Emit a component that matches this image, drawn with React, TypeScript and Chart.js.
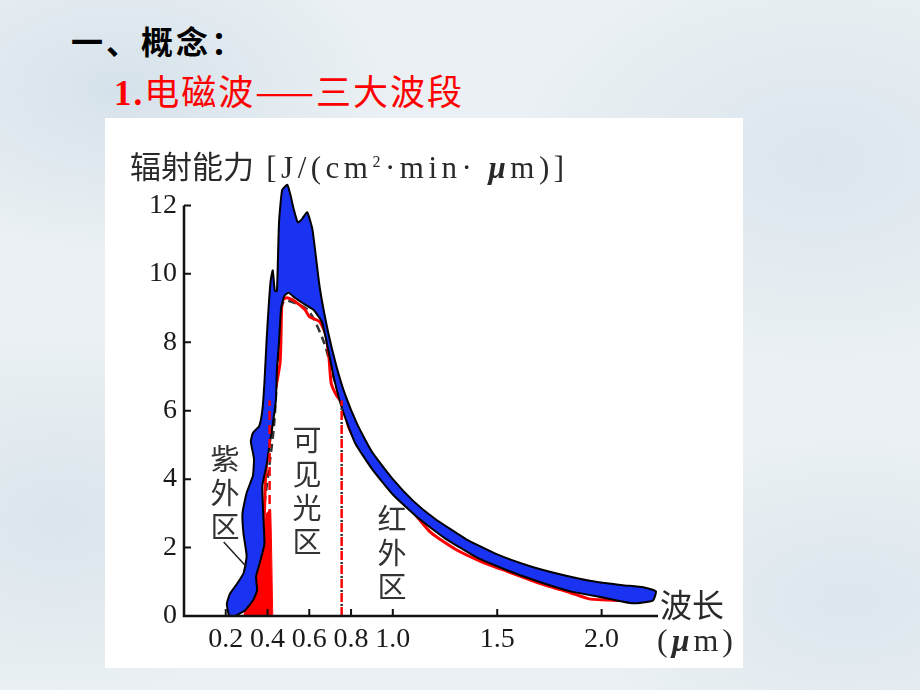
import React, { useEffect, useRef } from "react";
import { Chart, registerables } from "chart.js";

Chart.register(...registerables);

// ---- data (wavelength μm, radiant energy J/(cm²·min·μm)) ----
const xTicks = [0.2, 0.4, 0.6, 0.8, 1.0, 1.5, 2.0];
const yTicks = [0, 2, 4, 6, 8, 10, 12];
const X_MAX = 2.27;
const Y_MAX = 12.8;

// blue highlighted band (closed outline of the painted region)
const blueOutline: [number, number][] = [
  [0.215, 0.0], [0.205, 0.35], [0.22, 0.65], [0.255, 0.95], [0.285, 1.25], [0.3, 1.75],
  [0.285, 2.4], [0.28, 3.0], [0.3, 3.6], [0.33, 4.1], [0.335, 4.6], [0.32, 5.1],
  [0.33, 5.35], [0.36, 5.55], [0.375, 6.0], [0.385, 6.8], [0.395, 8.0], [0.405, 9.0],
  [0.415, 9.8], [0.425, 10.1], [0.435, 9.5], [0.445, 9.5], [0.455, 11.5], [0.47, 12.45],
  [0.495, 12.6], [0.51, 12.3], [0.525, 11.9], [0.545, 11.5], [0.565, 11.6], [0.59, 11.8],
  [0.615, 11.3], [0.65, 9.6], [0.69, 8.3], [0.73, 7.3], [0.77, 6.5], [0.83, 5.6],
  [0.9, 4.8], [1.0, 4.0], [1.1, 3.35], [1.2, 2.85], [1.35, 2.25], [1.5, 1.8],
  [1.65, 1.47], [1.8, 1.22], [1.95, 1.02], [2.1, 0.9], [2.2, 0.84], [2.26, 0.72],
  [2.245, 0.45], [2.15, 0.37], [2.0, 0.55], [1.85, 0.72], [1.7, 1.0], [1.55, 1.33],
  [1.4, 1.72], [1.25, 2.27], [1.12, 2.87], [1.0, 3.55], [0.9, 4.3], [0.82, 5.05],
  [0.76, 6.0], [0.72, 6.9], [0.69, 7.8], [0.66, 8.6], [0.62, 8.95], [0.58, 9.1],
  [0.53, 9.3], [0.5, 9.45], [0.48, 9.35], [0.465, 9.0], [0.455, 8.0], [0.445, 7.2],
  [0.44, 6.3], [0.425, 5.6], [0.41, 5.0], [0.395, 4.4], [0.375, 3.8], [0.38, 2.9],
  [0.385, 2.1], [0.365, 1.6], [0.345, 1.15], [0.35, 0.75], [0.33, 0.45], [0.29, 0.15],
  [0.245, 0.0],
];

// red hand-drawn curve
const redCurve: [number, number][] = [
  [0.29, 0.1], [0.355, 1.05], [0.37, 2.0], [0.385, 3.0], [0.39, 4.0], [0.41, 5.4],
  [0.435, 6.5], [0.46, 7.4], [0.465, 8.3], [0.47, 9.2], [0.49, 9.3], [0.53, 9.2],
  [0.58, 8.95], [0.6, 8.75], [0.65, 8.6], [0.68, 8.2], [0.695, 7.5], [0.705, 6.8],
  [0.73, 6.45], [0.76, 6.2], [0.79, 5.5], [0.85, 4.85], [0.89, 4.55], [0.95, 4.2],
  [1.0, 3.7], [1.07, 3.25], [1.18, 2.45], [1.3, 1.95], [1.42, 1.6], [1.55, 1.3],
  [1.66, 1.05], [1.74, 0.88], [1.85, 0.68], [1.94, 0.5], [2.02, 0.47], [2.1, 0.45],
  [2.2, 0.5],
];

// black dashed curve (blackbody reference)
const blackDashed: [number, number][] = [
  [0.3, 0.3], [0.35, 1.5], [0.39, 3.5], [0.43, 5.5], [0.445, 7.0], [0.46, 8.6],
  [0.48, 9.2], [0.55, 9.1], [0.6, 8.9], [0.67, 8.0], [0.72, 6.9], [0.76, 6.2],
  [0.86, 5.0], [1.0, 3.95], [1.2, 2.65], [1.5, 1.65], [1.8, 1.1], [2.0, 0.8],
  [2.2, 0.62],
];

// red filled ultraviolet wedge
const redWedge: [number, number][] = [
  [0.285, 0], [0.33, 0.7], [0.36, 1.5], [0.38, 2.3], [0.395, 3.0], [0.415, 3.1], [0.425, 0],
];

const uvBoundary: [number, number][] = [[0.41, 0], [0.41, 6.3]];
const irBoundary: [number, number][] = [[0.755, 0], [0.755, 6.3]];
const uvLeader: [number, number][] = [[0.19, 2.16], [0.3, 1.43]];

const pts = (a: [number, number][]) => a.map(([x, y]) => ({ x, y }));

const axesPlugin = {
  id: "handAxes",
  afterDatasetsDraw(chart: any) {
    const { ctx } = chart;
    const xs = chart.scales.x;
    const ys = chart.scales.y;
    const x0 = xs.getPixelForValue(0);
    const xEnd = xs.getPixelForValue(X_MAX);
    const y0 = ys.getPixelForValue(0);
    const yTop = ys.getPixelForValue(yTicks[yTicks.length - 1]);
    ctx.save();
    ctx.strokeStyle = "#111";
    ctx.lineWidth = 2.5;
    ctx.lineCap = "butt";
    ctx.beginPath();
    ctx.moveTo(x0, yTop);
    ctx.lineTo(x0, y0);
    ctx.lineTo(xEnd, y0);
    ctx.stroke();
    ctx.lineWidth = 2;
    ctx.beginPath();
    for (const v of yTicks) {
      if (v === 0) continue;
      const py = ys.getPixelForValue(v);
      ctx.moveTo(x0, py);
      ctx.lineTo(x0 + 7, py);
    }
    for (const v of xTicks) {
      const px = xs.getPixelForValue(v);
      ctx.moveTo(px, y0);
      ctx.lineTo(px, y0 - 7);
    }
    ctx.stroke();
    ctx.restore();
  },
};

export default function App() {
  const ref = useRef<HTMLCanvasElement | null>(null);

  useEffect(() => {
    if (!ref.current) return;
    const chart = new Chart(ref.current, {
      type: "scatter",
      data: {
        datasets: [
          {
            label: "leader",
            data: pts(uvLeader),
            showLine: true,
            borderColor: "#222",
            borderWidth: 1.5,
            pointRadius: 0,
            order: 0,
          },
          {
            label: "uv",
            data: pts(uvBoundary),
            showLine: true,
            borderColor: "#ff0000",
            borderWidth: 2.5,
            borderDash: [9, 5],
            pointRadius: 0,
            order: 1,
          },
          {
            label: "ir",
            data: pts(irBoundary),
            showLine: true,
            borderColor: "#ff0000",
            borderWidth: 2.5,
            borderDash: [9, 5],
            pointRadius: 0,
            order: 1,
          },
          {
            label: "irDots",
            data: pts(irBoundary),
            showLine: true,
            borderColor: "#333",
            borderWidth: 2.5,
            borderDash: [2, 12],
            borderDashOffset: -10,
            pointRadius: 0,
            order: 1.5,
          },
          {
            label: "blue",
            data: pts(blueOutline),
            showLine: true,
            fill: "shape",
            backgroundColor: "#1a32f2",
            borderColor: "#000",
            borderWidth: 2,
            tension: 0.15,
            pointRadius: 0,
            order: 2,
          },
          {
            label: "red",
            data: pts(redCurve),
            showLine: true,
            borderColor: "#ff0000",
            borderWidth: 3,
            tension: 0.2,
            pointRadius: 0,
            order: 3,
          },
          {
            label: "dashed",
            data: pts(blackDashed),
            showLine: true,
            borderColor: "#333",
            borderWidth: 2.5,
            borderDash: [8, 5],
            tension: 0.3,
            pointRadius: 0,
            order: 4,
          },
          {
            label: "wedge",
            data: pts(redWedge),
            showLine: true,
            fill: "shape",
            backgroundColor: "#ff0000",
            borderColor: "#ff0000",
            borderWidth: 1,
            tension: 0.1,
            pointRadius: 0,
            order: 5,
          },
        ],
      },
      options: {
        animation: false,
        responsive: true,
        maintainAspectRatio: false,
        layout: { padding: { left: 100, top: 178, right: 262, bottom: 0 } },
        plugins: { legend: { display: false }, tooltip: { enabled: false } },
        scales: {
          x: {
            type: "linear",
            min: 0,
            max: X_MAX,
            grid: { display: false, drawTicks: false },
            border: { display: false },
            afterBuildTicks: (s: any) => {
              s.ticks = xTicks.map((v) => ({ value: v }));
            },
            afterFit: (s: any) => {
              s.height = 74;
            },
            ticks: {
              autoSkip: false,
              maxRotation: 0,
              padding: 7,
              color: "#1a1a1a",
              font: { family: "'Liberation Serif', serif", size: 28 },
              callback: (v: any) => Number(v).toFixed(1),
            },
          },
          y: {
            type: "linear",
            min: 0,
            max: Y_MAX,
            grid: { display: false, drawTicks: false },
            border: { display: false },
            afterBuildTicks: (s: any) => {
              s.ticks = yTicks.map((v) => ({ value: v }));
            },
            afterFit: (s: any) => {
              s.width = 84;
            },
            ticks: {
              padding: 7,
              color: "#1a1a1a",
              font: { family: "'Liberation Serif', serif", size: 28 },
              callback: (v: any) => String(v),
            },
          },
        },
      },
      plugins: [axesPlugin],
    });
    return () => chart.destroy();
  }, []);

  const cjk = "'Noto Sans CJK SC', 'Noto Sans', sans-serif";
  const serif = "'Liberation Serif', 'DejaVu Serif', serif";
  const vLabel: React.CSSProperties = {
    position: "absolute",
    width: 32,
    textAlign: "center",
    fontFamily: cjk,
    fontSize: 29,
    lineHeight: "34px",
    color: "#333",
    zIndex: 3,
  };

  return (
    <div
      style={{
        position: "fixed",
        left: 0,
        top: 0,
        width: 920,
        height: 690,
        overflow: "hidden",
        backgroundColor: "#eaf0f3",
        backgroundImage:
          "radial-gradient(ellipse 260px 160px at 120px 90px, rgba(200,216,229,0.6), transparent)," +
          "radial-gradient(ellipse 300px 200px at 820px 160px, rgba(204,219,231,0.5), transparent)," +
          "radial-gradient(ellipse 240px 180px at 60px 520px, rgba(202,217,228,0.5), transparent)," +
          "radial-gradient(ellipse 260px 160px at 850px 600px, rgba(205,220,231,0.5), transparent)",
      }}
    >
      <div
        style={{
          position: "absolute",
          left: 71,
          top: 22,
          fontFamily: cjk,
          fontWeight: 700,
          fontSize: 32,
          letterSpacing: 3,
          lineHeight: "36px",
          color: "#000",
        }}
      >
        一、概念：
      </div>
      <div
        style={{
          position: "absolute",
          left: 114,
          top: 71,
          fontSize: 35,
          lineHeight: "38px",
          color: "#ff0000",
          whiteSpace: "nowrap",
          letterSpacing: 2,
        }}
      >
        <span style={{ fontFamily: serif, fontWeight: 700 }}>1.</span>
        <span style={{ fontFamily: cjk }}>电磁波——三大波段</span>
      </div>

      <div
        style={{
          position: "absolute",
          left: 105,
          top: 118,
          width: 638,
          height: 550,
          background: "#fff",
        }}
      />
      <div style={{ position: "absolute", left: 0, top: 0, width: 920, height: 690, zIndex: 2 }}>
        <canvas ref={ref} />
      </div>

      <div
        style={{
          position: "absolute",
          left: 130,
          top: 145,
          fontSize: 31,
          lineHeight: "34px",
          color: "#2a2a2a",
          whiteSpace: "nowrap",
          zIndex: 3,
        }}
      >
        <span style={{ fontFamily: cjk }}>辐射能力</span>
        <span style={{ fontFamily: serif, letterSpacing: 4.5 }}>
          {" "}[J/(cm<sup style={{ fontSize: 16 }}>2</sup>·min·{" "}
          <b><i>μ</i></b>m)]
        </span>
      </div>

      <div style={{ ...vLabel, left: 209, top: 440 }}>紫<br />外<br />区</div>
      <div style={{ ...vLabel, left: 291, top: 421 }}>可<br />见<br />光<br />区</div>
      <div style={{ ...vLabel, left: 376, top: 500 }}>红<br />外<br />区</div>

      <div
        style={{
          position: "absolute",
          left: 660,
          top: 585,
          fontFamily: cjk,
          fontSize: 32,
          lineHeight: "36px",
          color: "#2a2a2a",
          zIndex: 3,
        }}
      >
        波长
      </div>
      <div
        style={{
          position: "absolute",
          left: 657,
          top: 622,
          fontFamily: serif,
          fontSize: 32,
          letterSpacing: 4,
          lineHeight: "36px",
          color: "#2a2a2a",
          whiteSpace: "nowrap",
          zIndex: 3,
        }}
      >
        (<b><i>μ</i></b>m)
      </div>
    </div>
  );
}
